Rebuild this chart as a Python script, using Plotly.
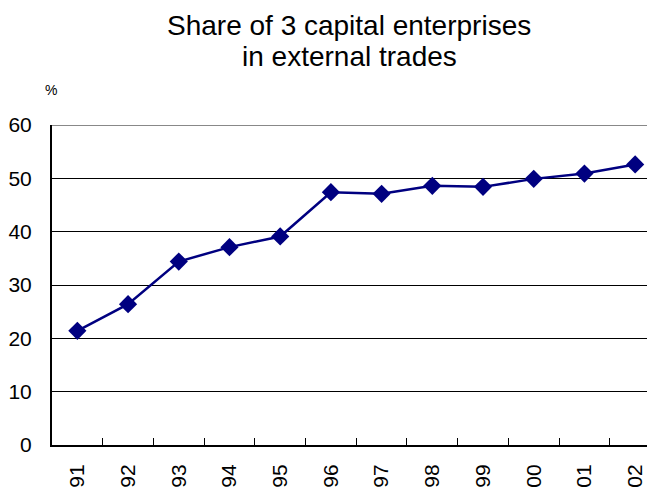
import plotly.graph_objects as go

years = ["91", "92", "93", "94", "95", "96", "97", "98", "99", "00", "01", "02"]
share = [21.4, 26.4, 34.4, 37.1, 39.1, 47.4, 47.1, 48.6, 48.4, 49.9, 50.9, 52.6]
y_ticks = [0, 10, 20, 30, 40, 50, 60]
title_lines = ["Share of 3 capital enterprises", "in external trades"]

fig = go.Figure()
fig.add_trace(go.Scatter(
    x=years, y=share, mode="lines+markers",
    line=dict(color="#000080", width=2.5),
    marker=dict(symbol="diamond", size=14, color="#000080"),
    showlegend=False,
))

font = "Liberation Sans, Arial, sans-serif"
annotations = [
    dict(text=t, xref="paper", yref="paper", x=0.4885, y=1.0, yshift=117 - 31 * i,
         xanchor="center", yanchor="top", showarrow=False, align="center",
         font=dict(family=font, size=28, color="black"))
    for i, t in enumerate(title_lines)
]
annotations.append(
    dict(text="%", xref="paper", yref="paper", x=0.0, xshift=-1, y=1.0,
         yshift=25, xanchor="center", yanchor="bottom", showarrow=False,
         font=dict(family=font, size=14, color="black")))

fig.update_layout(
    width=655, height=492,
    margin=dict(l=44, r=3, t=117, b=55),
    paper_bgcolor="white", plot_bgcolor="white",
    xaxis=dict(type="category", range=[-0.5, 11.49], tickson="boundaries",
               ticks="inside", ticklen=7, tickcolor="black", tickwidth=1,
               showline=True, linecolor="black", linewidth=2,
               showgrid=False, tickangle=-90, automargin=False,
               ticklabelstandoff=9,
               tickfont=dict(family=font, size=21, color="black")),
    yaxis=dict(range=[0, 60], tickvals=y_ticks, ticks="inside", ticklen=5,
               tickcolor="black", showline=True, linecolor="black", linewidth=2,
               showgrid=True, gridcolor="black", gridwidth=1, zeroline=False,
               ticklabelstandoff=14, automargin=False,
               tickfont=dict(family=font, size=21, color="black")),
    annotations=annotations,
    shapes=[dict(type="line", xref="paper", yref="y", x0=0, x1=1, y0=60, y1=60,
                 line=dict(color="#888888", width=2))],
)

fig.write_html("out.html")
